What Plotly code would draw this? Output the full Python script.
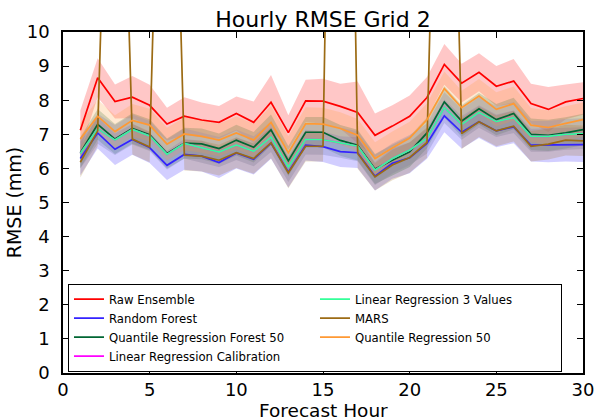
import plotly.graph_objects as go

hours = list(range(1, 31))

raw_ensemble = [7.12, 8.66, 7.96, 8.09, 7.85, 7.30, 7.53, 7.42, 7.35, 7.61, 7.35, 7.94, 7.05, 7.98, 7.97,
                7.82, 7.64, 6.97, 7.24, 7.53, 8.08, 9.05, 8.50, 8.82, 8.41, 8.56, 7.90, 7.73, 7.95, 8.05]
random_forest = [6.29, 7.04, 6.56, 6.85, 6.61, 6.09, 6.41, 6.36, 6.17, 6.45, 6.27, 6.74, 5.89, 6.68, 6.64,
                 6.49, 6.46, 5.77, 6.15, 6.31, 6.73, 7.54, 7.06, 7.37, 7.10, 7.22, 6.68, 6.68, 6.70, 6.70]
qrf_50 = [6.46, 7.29, 6.86, 7.17, 6.99, 6.44, 6.74, 6.72, 6.58, 6.83, 6.62, 7.13, 6.22, 7.06, 7.06,
          6.82, 6.68, 5.98, 6.24, 6.49, 7.04, 7.95, 7.39, 7.75, 7.43, 7.61, 7.00, 6.97, 7.04, 7.14]
lr_calibration = [6.44, 7.16, 6.83, 7.14, 6.95, 6.41, 6.73, 6.61, 6.48, 6.69, 6.50, 6.92, 6.04, 6.85, 6.84,
                  6.75, 6.65, 5.95, 6.29, 6.54, 6.88, 7.78, 7.29, 7.64, 7.37, 7.49, 6.94, 6.94, 7.00, 7.02]
lr_3_values = [6.44, 7.16, 6.83, 7.14, 6.95, 6.41, 6.73, 6.61, 6.48, 6.69, 6.50, 6.92, 6.04, 6.85, 6.84,
               6.75, 6.65, 5.95, 6.29, 6.54, 6.88, 7.78, 7.29, 7.64, 7.37, 7.49, 6.94, 6.94, 7.00, 7.02]
mars = [6.18, 7.10, 24.0, 6.86, 6.63, 25.0, 6.39, 6.36, 6.24, 6.46, 6.29, 6.75, 5.87, 6.65, 6.65,
        36.0, 6.44, 5.75, 6.10, 6.32, 6.76, 27.0, 7.02, 7.37, 7.10, 7.24, 6.65, 6.71, 6.83, 6.81]
qr_50 = [6.86, 7.53, 7.08, 7.41, 7.27, 6.71, 7.01, 6.94, 6.83, 7.04, 6.83, 7.35, 6.46, 7.31, 7.30,
         7.17, 6.97, 6.29, 6.60, 6.89, 7.43, 8.34, 7.78, 8.12, 7.73, 7.90, 7.27, 7.20, 7.32, 7.43]

# half-widths of the shaded uncertainty bands
raw_spread = [0.58, 0.57, 0.50, 0.62, 0.60, 0.48, 0.56, 0.51, 0.48, 0.50, 0.61, 0.80, 0.51, 0.62, 0.66,
              0.66, 0.91, 0.64, 0.61, 0.61, 0.60, 0.60, 0.57, 0.56, 0.59, 0.65, 0.58, 0.66, 0.51, 0.48]
rf_spread = [0.49, 0.46, 0.46, 0.45, 0.45, 0.43, 0.45, 0.45, 0.45, 0.45, 0.45, 0.46, 0.45, 0.45, 0.45,
             0.45, 0.45, 0.42, 0.45, 0.45, 0.45, 0.48, 0.48, 0.48, 0.48, 0.48, 0.48, 0.50, 0.50, 0.51]
qrf_spread = [0.45, 0.45, 0.44, 0.45, 0.45, 0.44, 0.45, 0.45, 0.44, 0.45, 0.45, 0.45, 0.44, 0.45, 0.45,
              0.45, 0.45, 0.44, 0.45, 0.45, 0.45, 0.46, 0.46, 0.46, 0.46, 0.46, 0.46, 0.46, 0.46, 0.46]
lrc_spread = [0.44, 0.44, 0.44, 0.44, 0.44, 0.44, 0.44, 0.44, 0.44, 0.44, 0.44, 0.44, 0.44, 0.44, 0.44,
              0.44, 0.44, 0.44, 0.44, 0.44, 0.44, 0.45, 0.45, 0.45, 0.45, 0.45, 0.45, 0.45, 0.45, 0.45]
lr3_spread = [0.44, 0.44, 0.44, 0.44, 0.44, 0.44, 0.44, 0.44, 0.44, 0.44, 0.44, 0.44, 0.44, 0.44, 0.44,
              0.44, 0.44, 0.44, 0.44, 0.44, 0.44, 0.45, 0.45, 0.45, 0.45, 0.45, 0.45, 0.45, 0.45, 0.45]
mars_spread = [0.45, 0.45, 0.45, 0.45, 0.45, 0.45, 0.45, 0.45, 0.45, 0.45, 0.45, 0.45, 0.45, 0.45, 0.45,
               0.45, 0.45, 0.40, 0.45, 0.45, 0.45, 0.45, 0.45, 0.45, 0.45, 0.45, 0.45, 0.45, 0.45, 0.45]
qr_spread = [0.48, 0.48, 0.48, 0.48, 0.48, 0.48, 0.48, 0.48, 0.48, 0.48, 0.48, 0.48, 0.48, 0.48, 0.48,
             0.48, 0.48, 0.48, 0.48, 0.48, 0.48, 0.50, 0.50, 0.50, 0.50, 0.50, 0.50, 0.50, 0.50, 0.50]

series = [
    ("Raw Ensemble", raw_ensemble, raw_spread, "#ff0000", (255, 0, 0), 1),
    ("Random Forest", random_forest, rf_spread, "#3322ff", (51, 34, 255), 3),
    ("Quantile Regression Forest 50", qrf_50, qrf_spread, "#006633", (0, 102, 51), 5),
    ("Linear Regression Calibration", lr_calibration, lrc_spread, "#ff00ff", (255, 0, 255), 7),
    ("Linear Regression 3 Values", lr_3_values, lr3_spread, "#33ff99", (51, 255, 153), 2),
    ("MARS", mars, mars_spread, "#9c6b14", (156, 107, 20), 4),
    ("Quantile Regression 50", qr_50, qr_spread, "#ff9933", (255, 153, 51), 6),
]

FONT = "DejaVu Sans"
fig = go.Figure()

# shaded bands
for name, vals, spread, color, rgb, rank in series:
    upper = [v + s for v, s in zip(vals, spread)]
    lower = [v - s for v, s in zip(vals, spread)]
    fill = "rgba(%d,%d,%d,0.22)" % rgb
    fig.add_trace(go.Scatter(x=hours, y=upper, mode="lines", line=dict(width=0, color=fill),
                             showlegend=False, hoverinfo="skip"))
    fig.add_trace(go.Scatter(x=hours, y=lower, mode="lines", line=dict(width=0, color=fill),
                             fill="tonexty", fillcolor=fill, showlegend=False, hoverinfo="skip"))

# lines
for name, vals, spread, color, rgb, rank in series:
    fig.add_trace(go.Scatter(x=hours, y=vals, mode="lines", name=name,
                             line=dict(color=color, width=1.7), legendrank=rank))

axis_common = dict(showline=True, linecolor="black", linewidth=1.5, mirror="ticks",
                   ticks="inside", ticklen=6, tickwidth=1, tickcolor="black",
                   showgrid=False, zeroline=False, automargin=False,
                   tickfont=dict(family=FONT, size=18, color="black"))

fig.update_layout(
    width=606, height=420,
    margin=dict(l=63, r=23, t=32, b=47, autoexpand=False),
    paper_bgcolor="white", plot_bgcolor="white",
    font=dict(family=FONT, color="black"),
    title=dict(text="Hourly RMSE Grid 2", font=dict(family=FONT, size=22, color="black"),
               x=0.533, xanchor="center", xref="container", y=0.935, yanchor="bottom", yref="container"),
    xaxis=dict(range=[0, 30], dtick=5, tick0=0, ticklabelstandoff=0, **axis_common),
    yaxis=dict(range=[0, 10], dtick=1, tick0=0,
               title=dict(text="RMSE (mm)", font=dict(family=FONT, size=19), standoff=0),
               ticklabelstandoff=8, **axis_common),
    legend=dict(orientation="h", x=0.0096, y=0.262, xanchor="left", yanchor="top",
                bordercolor="black", borderwidth=1, bgcolor="white",
                font=dict(family=FONT, size=11.7, color="black"),
                entrywidth=201, entrywidthmode="pixels", itemwidth=30,
                traceorder="normal"),
    showlegend=True,
    annotations=[dict(text="Forecast Hour", xref="paper", x=0.5, xanchor="center",
                      yref="paper", y=-0.1466, yanchor="bottom", showarrow=False,
                      font=dict(family=FONT, size=18.5, color="black"))],
)

fig.write_html("out.html")
